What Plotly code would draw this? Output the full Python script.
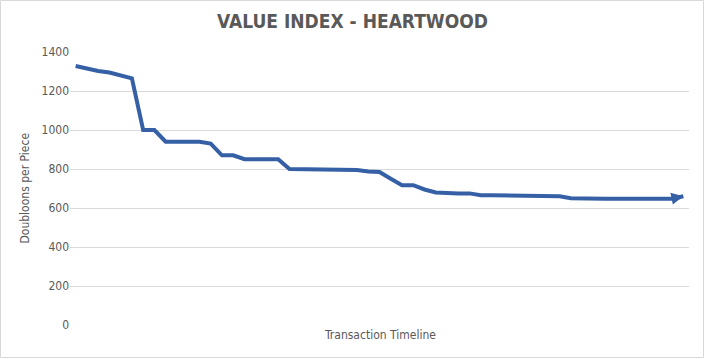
import plotly.graph_objects as go

title_text = "VALUE INDEX - HEARTWOOD"
x_title = "Transaction Timeline"
y_title = "Doubloons per Piece"

values = [1328, 1315, 1303, 1295, 1280, 1265, 1000, 1000, 940, 940,
          940, 940, 930, 870, 870, 850, 850, 850, 850, 800,
          800, 800, 800, 797, 795, 795, 787, 785, 750, 717,
          717, 695, 680, 675, 675, 675, 665, 665, 665, 665,
          665, 665, 660, 660, 650, 648, 648, 648, 648, 648,
          648, 648, 648, 648, 660]
categories = list(range(1, len(values) + 1))
y_ticks = [0, 200, 400, 600, 800, 1000, 1200, 1400]

W, H = 705, 359
L, R, T, B = 70, 16, 52, 34
pw = W - L - R
ph = H - T - B
line_color = "#3560A5"

fig = go.Figure()
fig.add_trace(go.Scatter(
    x=categories, y=values, mode="lines",
    line=dict(color=line_color, width=4),
    hoverinfo="skip", showlegend=False, cliponaxis=False,
))

font_main = "Liberation Sans Narrow, DejaVu Sans Condensed, Arial Narrow, sans-serif"

fig.update_layout(
    width=W, height=H,
    margin=dict(l=L, r=R, t=T, b=B),
    paper_bgcolor="white", plot_bgcolor="white",
    font=dict(family=font_main, color="#595959", size=12),
    title=dict(text="<b>" + title_text + "</b>", x=0.5, xanchor="center",
               y=1 - 21 / H, yanchor="middle",
               font=dict(size=19, color="#595959", family=font_main)),
    xaxis=dict(type="linear", range=[0.5, len(values) + 0.5],
               showticklabels=False, showgrid=False, zeroline=False,
               showline=False, ticks=""),
    yaxis=dict(range=[0, 1400], tickvals=y_ticks, showgrid=True,
               gridcolor="#D9D9D9", gridwidth=1, zeroline=False,
               showline=False, ticks="", ticklen=0,
               tickfont=dict(size=12, color="#595959"), automargin=False),
    shapes=[dict(type="rect", xref="paper", yref="paper",
                 x0=-(L - 0.5) / pw, x1=1 + (R - 1.5) / pw,
                 y0=-(B - 1.5) / ph, y1=1 + (T - 0.5) / ph,
                 line=dict(color="#D9D9D9", width=1), layer="below")],
    annotations=[
        dict(text=x_title, xref="paper", yref="paper", x=0.5,
             y=-10 / ph, yanchor="middle", xanchor="center", showarrow=False,
             font=dict(size=12, color="#595959")),
        dict(text=y_title, xref="paper", yref="paper", x=-(L - 24) / pw,
             y=0.5, xanchor="center", yanchor="middle", textangle=-90,
             showarrow=False, font=dict(size=12, color="#595959")),
        dict(x=categories[-1], y=values[-1], xref="x", yref="y",
             ax=categories[-2], ay=values[-2], axref="x", ayref="y",
             text="", showarrow=True, arrowhead=2, arrowsize=0.6,
             arrowwidth=4, arrowcolor=line_color, standoff=0, startstandoff=0),
    ],
)

fig.write_html("out.html", config={"displayModeBar": False},
               post_script="document.body.style.margin='0';document.body.style.padding='0';")
